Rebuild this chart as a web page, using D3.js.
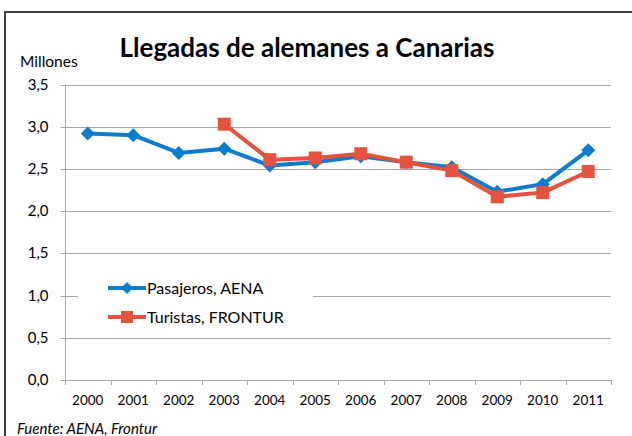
<!DOCTYPE html>
<html>
<head>
<meta charset="utf-8">
<script src="https://cdn.jsdelivr.net/npm/d3@7"></script>
<style>
  body { margin: 0; background: #fff; }
  text { font-family: Lato, "Open Sans", sans-serif; fill: #000; }
</style>
</head>
<body>
<div id="chart"></div>
<script>
// data (millions)
var years = ["2000", "2001", "2002", "2003", "2004", "2005", "2006", "2007", "2008", "2009", "2010", "2011"];
var pasajeros = [2.92, 2.90, 2.69, 2.74, 2.54, 2.58, 2.65, 2.58, 2.52, 2.23, 2.32, 2.72];
var turistas = [null, null, null, 3.03, 2.61, 2.63, 2.68, 2.58, 2.48, 2.17, 2.22, 2.47];
var yTicks = [0, 0.5, 1, 1.5, 2, 2.5, 3, 3.5];

var svgWidth = 632;
var svgHeight = 436;

var plot = { left: 65, right: 611, top: 84.5, bottom: 380 };

var svg = d3.select("#chart")
  .append("svg")
  .attr("width", svgWidth)
  .attr("height", svgHeight);

svg.append("rect")
  .attr("width", svgWidth)
  .attr("height", svgHeight)
  .attr("fill", "#fff");

// outer frame (runs off the right and bottom edges)
svg.append("rect")
  .attr("x", 5)
  .attr("y", 12)
  .attr("width", 660)
  .attr("height", 460)
  .attr("fill", "none")
  .attr("stroke", "#404040")
  .attr("stroke-width", 2);

var xScale = d3.scaleBand()
  .domain(years)
  .range([plot.left, plot.right]);

var yScale = d3.scaleLinear()
  .domain([0, 3.5])
  .range([plot.bottom, plot.top]);

var fmt = function(d) { return d3.format(".1f")(d).replace(".", ","); };

// gridlines
svg.append("g")
  .selectAll("line")
  .data(yTicks.filter(d => d > 0))
  .enter()
  .append("line")
  .attr("x1", plot.left)
  .attr("x2", plot.right)
  .attr("y1", d => Math.round(yScale(d)) + 0.5)
  .attr("y2", d => Math.round(yScale(d)) + 0.5)
  .attr("stroke", "#a6a6a6")
  .attr("stroke-width", 1);

// y axis
var leftAxis = d3.axisLeft(yScale)
  .tickValues(yTicks)
  .tickSize(5)
  .tickPadding(12)
  .tickFormat(fmt);

var yAxis = svg.append("g")
  .attr("transform", `translate(${plot.left + 0.5}, 0)`)
  .call(leftAxis);
yAxis.select(".domain").attr("stroke", "#a6a6a6").attr("d", `M0,${plot.top}V${plot.bottom}`);
yAxis.selectAll(".tick line").attr("stroke", "#a6a6a6");
yAxis.selectAll(".tick")
  .attr("transform", d => `translate(0, ${Math.round(yScale(d)) + 0.5})`);
yAxis.selectAll(".tick text")
  .style("font-size", "15px")
  .style("font-family", "Lato, sans-serif")
  .attr("fill", "#000");

// x axis: ticks between categories
var xAxis = svg.append("g");
xAxis.append("line")
  .attr("x1", plot.left)
  .attr("x2", plot.right)
  .attr("y1", plot.bottom + 0.5)
  .attr("y2", plot.bottom + 0.5)
  .attr("stroke", "#a6a6a6");
xAxis.selectAll(".xtick")
  .data(years.concat(["end"]))
  .enter()
  .append("line")
  .attr("class", "xtick")
  .attr("x1", (d, i) => Math.round(plot.left + i * xScale.bandwidth()) + 0.5)
  .attr("x2", (d, i) => Math.round(plot.left + i * xScale.bandwidth()) + 0.5)
  .attr("y1", plot.bottom)
  .attr("y2", plot.bottom + 5)
  .attr("stroke", "#a6a6a6");
xAxis.selectAll(".xlabel")
  .data(years)
  .enter()
  .append("text")
  .attr("class", "xlabel")
  .attr("x", d => xScale(d) + xScale.bandwidth() / 2)
  .attr("y", 405)
  .attr("text-anchor", "middle")
  .style("font-size", "13.5px")
  .text(d => d);

// series
var line = d3.line()
  .defined(d => d.v != null)
  .x(d => xScale(d.year) + xScale.bandwidth() / 2)
  .y(d => yScale(d.v));

var blueData = years.map((y, i) => ({ year: y, v: pasajeros[i] }));
var redData = years.map((y, i) => ({ year: y, v: turistas[i] }));

var blue = "#0b7dcc";
var red = "#e5533f";

svg.append("path")
  .datum(blueData)
  .attr("d", line)
  .attr("fill", "none")
  .attr("stroke", blue)
  .attr("stroke-width", 4)
  .attr("stroke-linejoin", "round");

svg.append("g")
  .selectAll("path")
  .data(blueData)
  .enter()
  .append("path")
  .attr("transform", d => `translate(${xScale(d.year) + xScale.bandwidth() / 2}, ${yScale(d.v)})`)
  .attr("d", "M0,-7L7,0L0,7L-7,0Z")
  .attr("fill", blue);

svg.append("path")
  .datum(redData)
  .attr("d", line)
  .attr("fill", "none")
  .attr("stroke", red)
  .attr("stroke-width", 4)
  .attr("stroke-linejoin", "round");

svg.append("g")
  .selectAll("rect")
  .data(redData.filter(d => d.v != null))
  .enter()
  .append("rect")
  .attr("x", d => xScale(d.year) + xScale.bandwidth() / 2 - 6.5)
  .attr("y", d => yScale(d.v) - 6.5)
  .attr("width", 13)
  .attr("height", 13)
  .attr("fill", red);

// legend
var legend = svg.append("g");
legend.append("rect")
  .attr("x", 78)
  .attr("y", 270)
  .attr("width", 235)
  .attr("height", 60)
  .attr("fill", "#fff");

var legendItems = [
  { name: "Pasajeros, AENA", color: blue, y: 288, shape: "diamond" },
  { name: "Turistas, FRONTUR", color: red, y: 317, shape: "square" }
];

legendItems.forEach(function(item) {
  legend.append("line")
    .attr("x1", 108)
    .attr("x2", 146)
    .attr("y1", item.y)
    .attr("y2", item.y)
    .attr("stroke", item.color)
    .attr("stroke-width", 4);
  if (item.shape === "diamond") {
    legend.append("path")
      .attr("transform", `translate(127, ${item.y})`)
      .attr("d", "M0,-6L6,0L0,6L-6,0Z")
      .attr("fill", item.color);
  } else {
    legend.append("rect")
      .attr("x", 121)
      .attr("y", item.y - 6)
      .attr("width", 12)
      .attr("height", 12)
      .attr("fill", item.color);
  }
  legend.append("text")
    .attr("x", 147)
    .attr("y", item.y + 5.5)
    .style("font-size", "16px")
    .text(item.name);
});

// title and labels
svg.append("text")
  .attr("x", 307)
  .attr("y", 57)
  .attr("text-anchor", "middle")
  .style("font-size", "26px")
  .style("font-weight", "bold")
  .text("Llegadas de alemanes a Canarias");

svg.append("text")
  .attr("x", 20)
  .attr("y", 67)
  .style("font-size", "15.5px")
  .text("Millones");

svg.append("text")
  .attr("x", 17)
  .attr("y", 434)
  .style("font-size", "15px")
  .style("font-style", "italic")
  .text("Fuente: AENA, Frontur");
</script>
</body>
</html>
